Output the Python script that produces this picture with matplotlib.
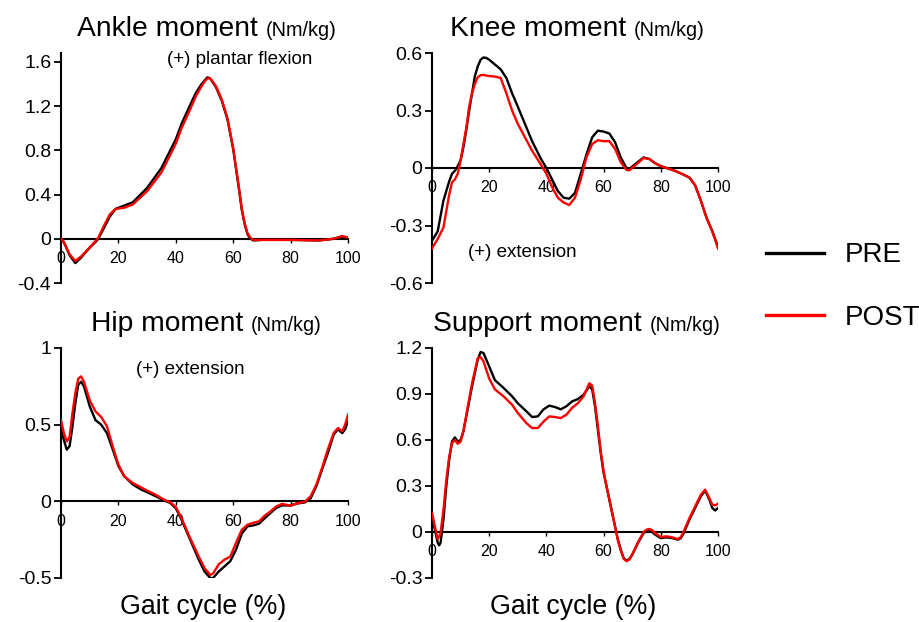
import matplotlib
matplotlib.use("Agg")
import matplotlib.pyplot as plt
from matplotlib.lines import Line2D

plt.rcParams['font.family'] = ['Liberation Sans', 'DejaVu Sans']

# gait cycle points (%) and moments (Nm/kg)
ankle_x = [0, 1, 3, 5, 7, 10, 12, 13, 15, 17, 19, 22, 25, 30, 35, 40, 42, 45, 47, 49, 50, 51,
           52, 54, 56, 58, 60, 61, 62, 63, 64, 65, 66, 67, 70, 80, 90, 95, 98, 100]
ankle_pre = [0.0, -0.03, -0.15, -0.22, -0.17, -0.08, -0.03, 0.0, 0.1, 0.2, 0.27, 0.30, 0.33,
             0.46, 0.64, 0.90, 1.04, 1.21, 1.32, 1.40, 1.43, 1.46, 1.45, 1.37, 1.25, 1.08,
             0.81, 0.63, 0.45, 0.26, 0.13, 0.04, 0.0, -0.015, -0.01, -0.01, -0.015, 0.0,
             0.02, 0.01]
ankle_post = [0.0, -0.03, -0.14, -0.20, -0.16, -0.08, -0.02, 0.01, 0.12, 0.22, 0.27, 0.28,
              0.31, 0.43, 0.60, 0.86, 1.00, 1.17, 1.29, 1.38, 1.42, 1.45, 1.45, 1.38, 1.26,
              1.09, 0.82, 0.64, 0.46, 0.27, 0.14, 0.05, 0.01, -0.012, -0.01, -0.01, -0.015,
              0.0, 0.025, 0.01]

knee_x = [0, 2, 4, 6, 7, 8, 9, 10, 11, 12, 13, 14, 15, 16, 17, 18, 19, 20, 22, 24, 26, 28,
          30, 35, 38, 40, 42, 44, 46, 48, 50, 52, 54, 56, 58, 60, 62, 64, 66, 68, 69, 71, 74,
          76, 78, 80, 85, 88, 90, 92, 94, 96, 98, 100]
knee_pre = [-0.38, -0.33, -0.17, -0.07, -0.03, -0.015, 0.01, 0.04, 0.11, 0.2, 0.3, 0.39,
            0.48, 0.53, 0.565, 0.577, 0.574, 0.565, 0.54, 0.515, 0.47, 0.39, 0.32, 0.14, 0.05,
            0.0, -0.06, -0.12, -0.155, -0.16, -0.13, -0.03, 0.07, 0.16, 0.195, 0.19, 0.18,
            0.135, 0.055, 0.0, -0.005, 0.02, 0.055, 0.047, 0.025, 0.01, -0.015, -0.035,
            -0.05, -0.09, -0.17, -0.26, -0.33, -0.41]
knee_post = [-0.42, -0.37, -0.31, -0.14, -0.075, -0.06, -0.03, 0.04, 0.125, 0.21, 0.32,
             0.39, 0.44, 0.474, 0.484, 0.486, 0.482, 0.48, 0.477, 0.47, 0.39, 0.30, 0.23,
             0.09, 0.02, -0.03, -0.10, -0.155, -0.18, -0.193, -0.155, -0.06, 0.055, 0.125,
             0.145, 0.14, 0.14, 0.10, 0.03, -0.01, -0.012, 0.013, 0.052, 0.047, 0.025, 0.01,
             -0.015, -0.035, -0.05, -0.09, -0.17, -0.26, -0.33, -0.42]

hip_x = [0, 1, 2, 3, 4, 5, 6, 7, 8, 10, 12, 14, 16, 18, 20, 22, 25, 28, 30, 33, 36, 38, 40,
         42, 45, 48, 50, 52, 53, 55, 57, 59, 61, 63, 65, 67, 69, 71, 73, 75, 77, 80, 82, 85,
         87, 89, 91, 93, 95, 96.5, 98, 99, 100]
hip_pre = [0.47, 0.40, 0.337, 0.36, 0.49, 0.64, 0.76, 0.78, 0.75, 0.62, 0.53, 0.50, 0.445,
           0.34, 0.23, 0.165, 0.11, 0.076, 0.06, 0.033, 0.005, -0.01, -0.045, -0.12, -0.25,
           -0.38, -0.457, -0.50, -0.50, -0.457, -0.424, -0.39, -0.315, -0.21, -0.163, -0.157,
           -0.146, -0.11, -0.076, -0.043, -0.026, -0.028, -0.015, -0.007, 0.02, 0.1, 0.21,
           0.315, 0.435, 0.47, 0.445, 0.47, 0.52]
hip_post = [0.53, 0.445, 0.39, 0.42, 0.576, 0.707, 0.80, 0.815, 0.78, 0.66, 0.587, 0.55, 0.49,
            0.36, 0.24, 0.163, 0.12, 0.09, 0.07, 0.043, 0.01, -0.005, -0.037, -0.11, -0.24,
            -0.36, -0.435, -0.48, -0.47, -0.41, -0.38, -0.36, -0.27, -0.185, -0.152, -0.14,
            -0.13, -0.093, -0.065, -0.033, -0.017, -0.028, -0.015, -0.002, 0.033, 0.11, 0.22,
            0.34, 0.445, 0.478, 0.456, 0.5, 0.565]

sup_x = [0, 1, 2, 2.5, 3, 4, 5, 6, 7, 8, 9, 10, 11, 12, 14, 16, 17, 18, 20, 22, 25, 28, 30,
         33, 35, 37, 39, 41, 43, 45, 47, 49, 51, 53, 55, 56, 57, 58, 59, 60, 61, 62, 63, 64,
         65, 66, 67, 68, 69, 70, 72, 74, 75, 76, 77, 78, 80, 82, 84, 86, 87, 88, 90, 92, 94,
         95.5, 97, 98, 99, 100]
sup_pre = [0.10, 0.015, -0.07, -0.087, -0.07, 0.08, 0.30, 0.47, 0.59, 0.617, 0.59, 0.60,
           0.66, 0.754, 0.95, 1.124, 1.174, 1.167, 1.08, 0.99, 0.94, 0.885, 0.84, 0.787, 0.75,
           0.754, 0.80, 0.824, 0.815, 0.80, 0.82, 0.852, 0.867, 0.895, 0.95, 0.93, 0.82, 0.667,
           0.515, 0.385, 0.30, 0.21, 0.124, 0.037, -0.05, -0.115, -0.17, -0.187, -0.176,
           -0.148, -0.072, -0.007, 0.004, 0.009, 0.0, -0.017, -0.04, -0.035, -0.04, -0.05,
           -0.04, -0.007, 0.08, 0.157, 0.233, 0.27, 0.21, 0.157, 0.14, 0.157]
sup_post = [0.124, 0.037, -0.046, -0.03, -0.007, 0.145, 0.34, 0.49, 0.58, 0.60, 0.575, 0.59,
            0.656, 0.765, 0.97, 1.135, 1.14, 1.113, 1.0, 0.93, 0.885, 0.83, 0.776, 0.71, 0.678,
            0.678, 0.72, 0.754, 0.75, 0.743, 0.765, 0.81, 0.84, 0.885, 0.97, 0.955, 0.84, 0.69,
            0.526, 0.396, 0.30, 0.215, 0.124, 0.037, -0.054, -0.12, -0.174, -0.19, -0.18,
            -0.148, -0.067, 0.0, 0.015, 0.02, 0.011, -0.007, -0.033, -0.028, -0.035, -0.046,
            -0.033, 0.004, 0.09, 0.167, 0.243, 0.276, 0.22, 0.178, 0.174, 0.185]

panels = [
    ("Ankle moment", ankle_x, ankle_pre, ankle_post, (-0.4, 1.68), [-0.4, 0, 0.4, 0.8, 1.2, 1.6],
     ["-0.4", "0", "0.4", "0.8", "1.2", "1.6"], "(+) plantar flexion", (37, 1.62)),
    ("Knee moment", knee_x, knee_pre, knee_post, (-0.6, 0.6), [-0.6, -0.3, 0, 0.3, 0.6],
     ["-0.6", "-0.3", "0", "0.3", "0.6"], "(+) extension", (12.5, -0.44)),
    ("Hip moment", hip_x, hip_pre, hip_post, (-0.5, 1.0), [-0.5, 0, 0.5, 1],
     ["-0.5", "0", "0.5", "1"], "(+) extension", (26.3, 0.86)),
    ("Support moment", sup_x, sup_pre, sup_post, (-0.3, 1.2), [-0.3, 0, 0.3, 0.6, 0.9, 1.2],
     ["-0.3", "0", "0.3", "0.6", "0.9", "1.2"], None, None),
]
xticks = [0, 20, 40, 60, 80, 100]

W, H = 920, 622
fig = plt.figure(figsize=(W / 100, H / 100), dpi=100)

# axes boxes in pixels: left, top, right, bottom
boxes = [(61, 53, 348, 283), (432, 53, 718, 283), (61, 348, 348, 578), (432, 348, 718, 578)]

axes = []
for (l, t, r, b) in boxes:
    axes.append(fig.add_axes([l / W, 1 - b / H, (r - l) / W, (b - t) / H]))

for ax, (name, x, pre, post, ylim, yt, ytl, note, note_xy) in zip(axes, panels):
    ax.plot(x, pre, color='black', lw=1.7, zorder=3, solid_joinstyle='round')
    ax.plot(x, post, color='#ff0000', lw=1.7, zorder=4, solid_joinstyle='round')
    ax.set_xlim(0, 100)
    ax.set_ylim(*ylim)
    ax.spines['top'].set_visible(False)
    ax.spines['right'].set_visible(False)
    ax.spines['bottom'].set_position(('data', 0))
    ax.spines['left'].set_linewidth(1.5)
    ax.spines['bottom'].set_linewidth(1.5)
    ax.set_yticks(yt)
    ax.set_yticklabels(ytl)
    ax.set_xticks(xticks)
    ax.set_xticklabels([str(v) for v in xticks])
    ax.tick_params(axis='y', length=5, width=1.3, pad=2, labelsize=14, colors='black')
    ax.tick_params(axis='x', length=3, width=1, pad=6, labelsize=11.5, colors='black')
    ax.patch.set_alpha(0)
    if note:
        ax.text(note_xy[0], note_xy[1], note, fontsize=13.5, ha='left', va='center')

# titles: large name plus smaller unit, centred over each axes
renderer = fig.canvas.get_renderer()
for ax, (l, t, r, b), p in zip(axes, boxes, panels):
    cx = (l + r) / 2 + 2
    base = t - 17
    t1 = fig.text(0, 1 - base / H, p[0] + " ", fontsize=20.3, ha='left', va='baseline')
    t2 = fig.text(0, 1 - base / H, "(Nm/kg)", fontsize=14.3, ha='left', va='baseline')
    w1 = t1.get_window_extent(renderer).width
    w2 = t2.get_window_extent(renderer).width
    x0 = cx - (w1 + w2) / 2
    t1.set_x(x0 / W)
    t2.set_x((x0 + w1) / W)

for cx in [203, 573]:
    fig.text(cx / W, 1 - 607 / H, "Gait cycle (%)", fontsize=19.3, ha='center', va='center')

handles = [Line2D([], [], color='black', lw=2.4), Line2D([], [], color='#ff0000', lw=2.4)]
fig.legend(handles, ["PRE", "POST"], loc='center left', bbox_to_anchor=(766 / W, 1 - 286.5 / H),
           frameon=False, fontsize=20, handlelength=2.1, handletextpad=0.75, labelspacing=1.3,
           borderpad=0, borderaxespad=0)

fig.savefig("out.png", dpi=100)
